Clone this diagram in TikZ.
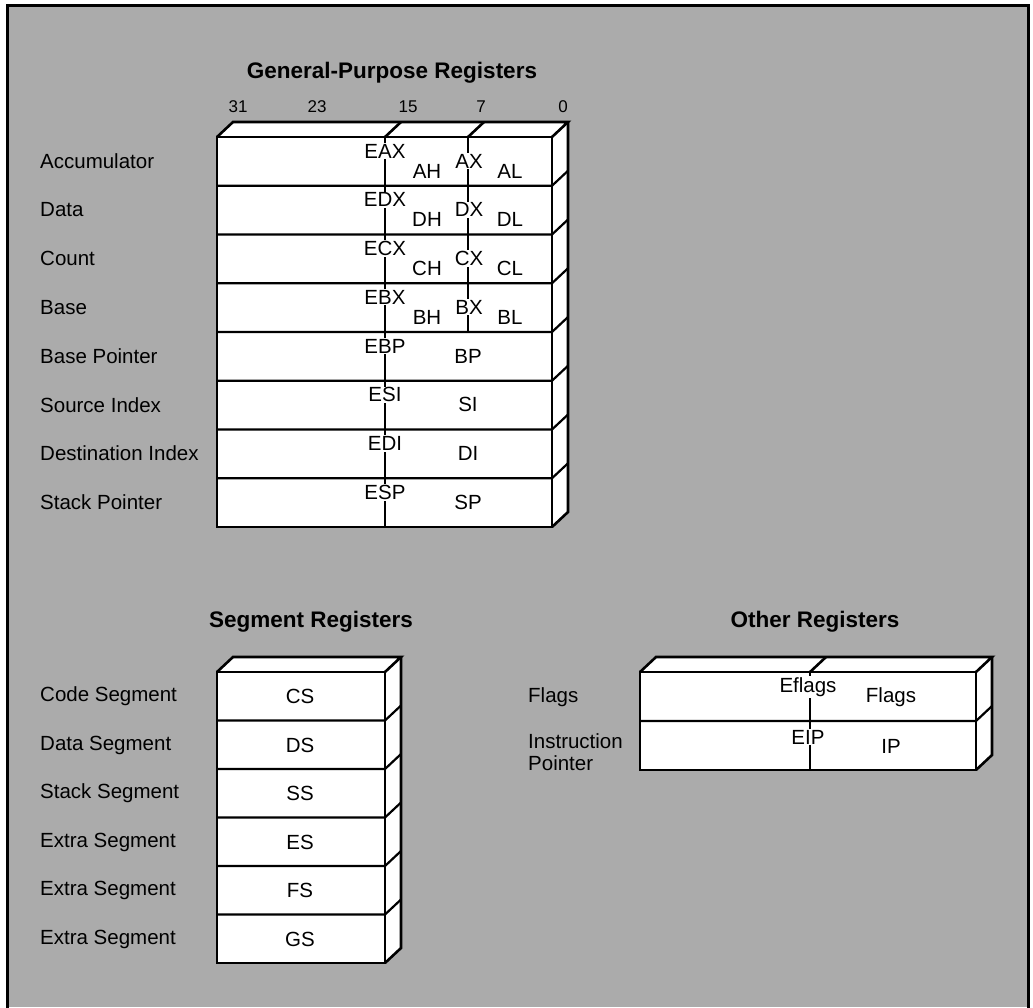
\documentclass[tikz,border=0pt]{standalone}
\usepackage{fontspec}
\setmainfont{Liberation Sans}
\definecolor{bg}{gray}{0.67}
\begin{document}
\begin{tikzpicture}[x=1pt,y=-1pt,
  lbl/.style={anchor=west, inner sep=0pt, font=\fontsize{20.5}{22}\selectfont},
  reg/.style={inner sep=1pt, fill=white, font=\fontsize{20.5}{22}\selectfont},
  ttl/.style={inner sep=0pt, font=\fontsize{22.5}{24}\selectfont\bfseries},
  bitno/.style={inner sep=0pt, font=\fontsize{17}{19}\selectfont},
  edge/.style={line width=2.6pt, line join=miter},
  sepline/.style={line width=2.2pt},
  divline/.style={line width=2.6pt},
]
\useasboundingbox (0,0) rectangle (1033,1007);
\fill[white] (0,0) rectangle (1033,1007);
\fill[bg] (7,5) rectangle (1028,1007);
\draw[line width=3pt] (7,1010) -- (7,5) -- (1028,5) -- (1028,1010);

% ---------- General-Purpose Registers ----------
\node[ttl] (gtitle) at (392,73) {General-Purpose Registers};
\node[bitno] (b31) at (238,107) {31};
\node[bitno] (b23) at (317,107) {23};
\node[bitno] (b15) at (408,107) {15};
\node[bitno] (b7)  at (481,107) {7};
\node[bitno] (b0)  at (563,107) {0};

\def\gL{217}\def\gR{552}\def\gT{137}\def\gB{527}
\filldraw[white] (\gL,\gT) rectangle (\gR,\gB);
\filldraw[white] (\gL,\gT) -- ++(16,-15) -- (\gR+16,\gT-15) -- (\gR,\gT) -- cycle;
\filldraw[white] (\gR,\gT) -- ++(16,-15) -- (\gR+16,\gB-15) -- (\gR,\gB) -- cycle;
\foreach \i in {1,...,7}{
  \draw[sepline] (\gL,\gT+\i*48.75) -- (\gR,\gT+\i*48.75) -- ++(16,-15);
}
\draw[divline] (385,\gT) -- (385,\gB);
\draw[divline] (385,\gT) -- ++(16,-15);
\draw[divline] (468,\gT) -- (468,\gT+4*48.75);
\draw[divline] (468,\gT) -- ++(16,-15);
\draw[edge] (\gL,\gT) rectangle (\gR,\gB);
\draw[edge] (\gL,\gT) -- ++(16,-15) -- (\gR+16,\gT-15) -- (\gR,\gT);
\draw[edge] (\gR+16,\gT-15) -- (\gR+16,\gB-15) -- (\gR,\gB);

\foreach \n/\r [count=\i from 0] in {Accumulator/A, Data/D, Count/C, Base/B}{
  \pgfmathsetmacro{\top}{\gT+\i*48.75}
  \node[lbl] (gl\i) at (40,\top+24) {\n};
  \node[reg] (ge\i) at (385,\top+14) {E\r X};
  \node[reg] (gh\i) at (427,\top+34) {\r H};
  \node[reg] (gx\i) at (469,\top+24) {\r X};
  \node[reg] (gll\i) at (510,\top+34) {\r L};
}
\foreach \n/\r [count=\i from 4] in {Base Pointer/BP, Source Index/SI, Destination Index/DI, Stack Pointer/SP}{
  \pgfmathsetmacro{\top}{\gT+\i*48.75}
  \node[lbl] (gl\i) at (40,\top+24) {\n};
  \node[reg] (ge\i) at (385,\top+14) {E\r};
  \node[reg] (gx\i) at (468,\top+24) {\r};
}

% ---------- Segment Registers ----------
\node[ttl] (stitle) at (311,622) {Segment Registers};
\def\sL{217}\def\sR{385}\def\sT{672}\def\sB{963}
\filldraw[white] (\sL,\sT) rectangle (\sR,\sB);
\filldraw[white] (\sL,\sT) -- ++(16,-15) -- (\sR+16,\sT-15) -- (\sR,\sT) -- cycle;
\filldraw[white] (\sR,\sT) -- ++(16,-15) -- (\sR+16,\sB-15) -- (\sR,\sB) -- cycle;
\foreach \i in {1,...,5}{
  \draw[sepline] (\sL,\sT+\i*48.5) -- (\sR,\sT+\i*48.5) -- ++(16,-15);
}
\draw[edge] (\sL,\sT) rectangle (\sR,\sB);
\draw[edge] (\sL,\sT) -- ++(16,-15) -- (\sR+16,\sT-15) -- (\sR,\sT);
\draw[edge] (\sR+16,\sT-15) -- (\sR+16,\sB-15) -- (\sR,\sB);
\foreach \n/\r [count=\i from 0] in {Code Segment/CS, Data Segment/DS, Stack Segment/SS, Extra Segment/ES, Extra Segment/FS, Extra Segment/GS}{
  \pgfmathsetmacro{\top}{\sT+\i*48.5}
  \node[lbl] (sl\i) at (40,\top+24.5) {\n};
  \node[reg] (sr\i) at (300,\top+24.5) {\r};
}

% ---------- Other Registers ----------
\node[ttl] (otitle) at (815,622) {Other Registers};
\def\oL{640}\def\oR{976}\def\oT{672}\def\oB{770}
\filldraw[white] (\oL,\oT) rectangle (\oR,\oB);
\filldraw[white] (\oL,\oT) -- ++(16,-15) -- (\oR+16,\oT-15) -- (\oR,\oT) -- cycle;
\filldraw[white] (\oR,\oT) -- ++(16,-15) -- (\oR+16,\oB-15) -- (\oR,\oB) -- cycle;
\draw[sepline] (\oL,721) -- (\oR,721) -- ++(16,-15);
\draw[divline] (810,\oT) -- (810,\oB);
\draw[divline] (810,\oT) -- ++(16,-15);
\draw[edge] (\oL,\oT) rectangle (\oR,\oB);
\draw[edge] (\oL,\oT) -- ++(16,-15) -- (\oR+16,\oT-15) -- (\oR,\oT);
\draw[edge] (\oR+16,\oT-15) -- (\oR+16,\oB-15) -- (\oR,\oB);
\node[reg] (eflags) at (808,687) {Eflags};
\node[reg] (flags) at (891,697) {Flags};
\node[reg] (eip) at (808,737) {EIP};
\node[reg] (ip) at (891,746) {IP};
\node[lbl] (lflags) at (528,697) {Flags};
\node[lbl] (linstr) at (528,741) {Instruction};
\node[lbl] (lptr) at (528,763) {Pointer};
\end{tikzpicture}
\end{document}
